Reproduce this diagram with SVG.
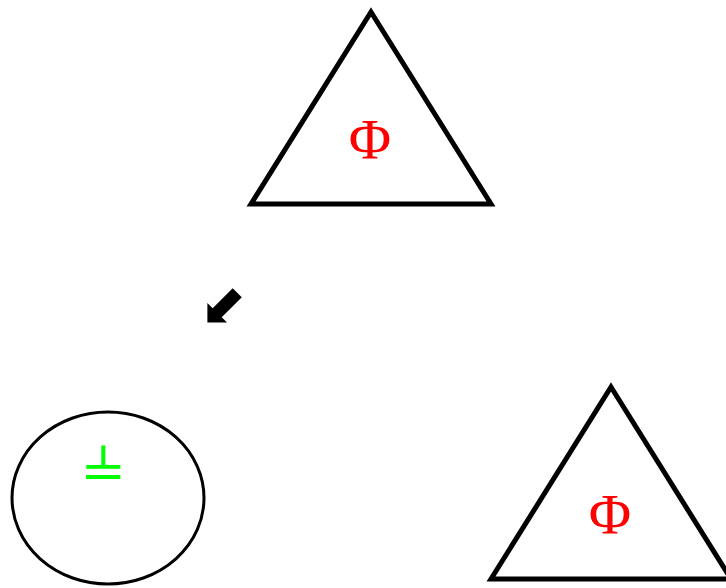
<svg xmlns="http://www.w3.org/2000/svg" width="726" height="588" viewBox="0 0 726 588">
<style>
.tri{fill:none;stroke:#000;stroke-width:5}
.phi{font-family:"Liberation Serif",serif;font-size:58px;fill:#f00;text-anchor:middle}
</style>
<rect width="726" height="588" fill="#fff"/>
<g id="node1">
<polygon class="tri" points="371,12 491,204 251,204"/>
<text class="phi" x="370" y="159">Φ</text>
</g>
<g id="node2">
<polygon class="tri" points="611,387 731,579 491,579"/>
<text class="phi" x="610" y="534">Φ</text>
</g>
<g id="node3">
<ellipse cx="108" cy="498" rx="96" ry="86" fill="none" stroke="#000" stroke-width="3"/>
<text x="103" y="480" font-family="DejaVu Sans,sans-serif" font-size="68" fill="#0f0" text-anchor="middle">⫨</text>
</g>
<g id="connectors">
<text x="223" y="324" font-family="DejaVu Sans,sans-serif" font-size="56" fill="#000" text-anchor="middle">⬋</text>
</g>
</svg>
